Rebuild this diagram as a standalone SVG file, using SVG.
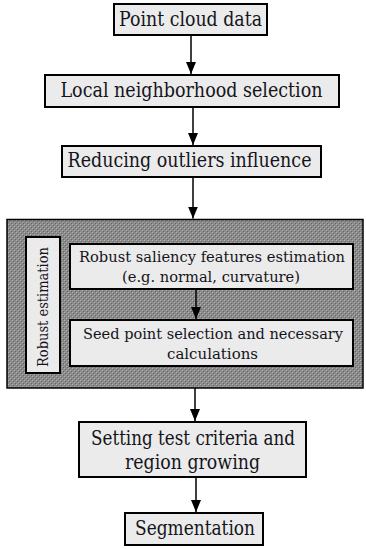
<svg xmlns="http://www.w3.org/2000/svg" width="366" height="549" viewBox="0 0 366 549">
  <defs>
    <!-- dithered grey texture of the estimation frame -->
    <pattern id="dither" width="4" height="4" patternUnits="userSpaceOnUse">
      <rect width="4" height="4" fill="#8a8a8a"/>
      <rect x="0" y="0" width="1" height="1" fill="#b4b4b4"/>
      <rect x="2" y="2" width="1" height="1" fill="#b4b4b4"/>
      <rect x="1" y="1" width="1" height="1" fill="#666"/>
      <rect x="3" y="3" width="1" height="1" fill="#666"/>
    </pattern>
    <marker id="arrow" viewBox="0 0 12 10" refX="12" refY="5" markerWidth="12" markerHeight="10" markerUnits="userSpaceOnUse" orient="auto">
      <path d="M0,0 L12,5 L0,10 Z" fill="#000"/>
    </marker>
  </defs>
  <style>
    .box { fill: #ebebeb; stroke: #000; stroke-width: 2; }
    .frame { fill: url(#dither); stroke: #000; stroke-width: 1.5; }
    .lbl { font-family: 'DejaVu Serif', 'Liberation Serif', serif; font-size: 19.5px; fill: #141420; text-anchor: middle; }
    .small { font-size: 15.5px; }
    .side { font-size: 14.5px; }
    .conn { stroke: #000; stroke-width: 1.5; fill: none; marker-end: url(#arrow); }
  </style>

  <g id="n-frame">
    <rect class="frame" x="7" y="219.5" width="356" height="168.5"/>
  </g>

  <g id="n-point-cloud">
    <rect class="box" x="114" y="4" width="153" height="31"/>
    <text class="lbl" x="190.5" y="26" textLength="143" lengthAdjust="spacingAndGlyphs">Point cloud data</text>
  </g>

  <g id="n-neighborhood">
    <rect class="box" x="45" y="75" width="294" height="32"/>
    <text class="lbl" x="191.5" y="97" textLength="262" lengthAdjust="spacingAndGlyphs">Local neighborhood selection</text>
  </g>

  <g id="n-outliers">
    <rect class="box" x="62" y="146" width="259" height="31"/>
    <text class="lbl" x="189.5" y="167" textLength="244" lengthAdjust="spacingAndGlyphs">Reducing outliers influence</text>
  </g>

  <g id="n-robust-label">
    <rect class="box" x="26" y="237" width="34" height="136" fill="#efefef"/>
    <text class="lbl side" transform="translate(48,307) rotate(-90)" x="0" y="0" textLength="120" lengthAdjust="spacingAndGlyphs">Robust estimation</text>
  </g>

  <g id="n-saliency">
    <rect class="box" x="70" y="244" width="283" height="45"/>
    <text class="lbl small" x="212" y="262" textLength="266" lengthAdjust="spacingAndGlyphs">Robust saliency features estimation</text>
    <text class="lbl small" x="211" y="282" textLength="178" lengthAdjust="spacingAndGlyphs">(e.g. normal, curvature)</text>
  </g>

  <g id="n-seed">
    <rect class="box" x="70" y="320" width="283" height="46"/>
    <text class="lbl small" x="213" y="339" textLength="260" lengthAdjust="spacingAndGlyphs">Seed point selection and necessary</text>
    <text class="lbl small" x="212.5" y="359" textLength="91" lengthAdjust="spacingAndGlyphs">calculations</text>
  </g>

  <g id="n-growing">
    <rect class="box" x="79" y="422" width="227" height="55"/>
    <text class="lbl" x="193" y="445" textLength="204" lengthAdjust="spacingAndGlyphs">Setting test criteria and</text>
    <text class="lbl" x="192.5" y="469" textLength="135" lengthAdjust="spacingAndGlyphs">region growing</text>
  </g>

  <g id="n-segmentation">
    <rect class="box" x="125" y="513" width="138" height="32"/>
    <text class="lbl" x="195" y="535" textLength="120" lengthAdjust="spacingAndGlyphs">Segmentation</text>
  </g>

  <g id="connectors">
    <line class="conn" x1="191" y1="35" x2="191" y2="74"/>
    <line class="conn" x1="193" y1="107" x2="193" y2="145"/>
    <line class="conn" x1="193" y1="177" x2="193" y2="218.5"/>
    <line class="conn" x1="196" y1="289" x2="196" y2="319"/>
    <line class="conn" x1="195" y1="388" x2="195" y2="421"/>
    <line class="conn" x1="196" y1="477" x2="196" y2="512"/>
  </g>
</svg>
